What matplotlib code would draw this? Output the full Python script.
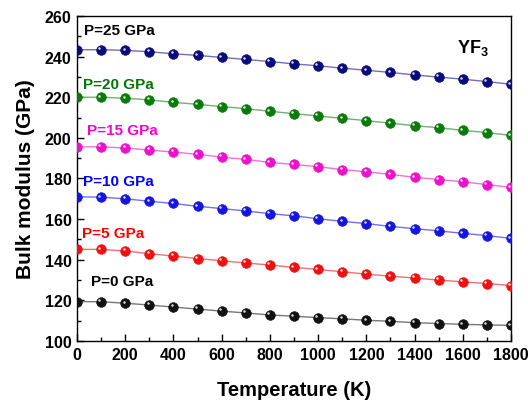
import matplotlib
matplotlib.use("Agg")
import matplotlib.pyplot as plt
import matplotlib.transforms as mtransforms
from matplotlib.ticker import MultipleLocator

plt.rcParams['font.family'] = ['Liberation Sans', 'DejaVu Sans']
plt.rcParams['font.weight'] = 'bold'
plt.rcParams['mathtext.fontset'] = 'custom'
plt.rcParams['mathtext.rm'] = 'Liberation Sans:bold'
plt.rcParams['mathtext.bf'] = 'Liberation Sans:bold'

# temperature grid (K)
temps = list(range(0, 1900, 100))

# bulk modulus (GPa) at each pressure
b_p0 = [119.4, 119.3, 118.6, 117.7, 116.7, 115.7, 114.7, 113.8, 112.8, 112.2,
        111.5, 110.9, 110.2, 109.7, 109.0, 108.6, 108.2, 107.9, 107.7]
b_p5 = [145.1, 145.1, 144.3, 143.0, 141.8, 140.6, 139.5, 138.4, 137.4, 136.2,
        135.2, 134.1, 132.9, 131.9, 131.0, 130.0, 129.1, 128.3, 127.3]
b_p10 = [171.0, 170.8, 170.0, 168.8, 167.7, 166.3, 165.2, 164.0, 162.7, 161.6,
         160.2, 158.9, 157.8, 156.4, 155.3, 154.2, 153.0, 151.9, 150.5]
b_p15 = [195.6, 195.6, 195.0, 194.0, 193.0, 191.9, 190.5, 189.4, 187.9, 186.9,
         185.8, 184.4, 183.3, 182.0, 180.6, 179.5, 178.4, 177.0, 175.6]
b_p20 = [220.0, 220.0, 219.5, 218.7, 217.5, 216.5, 215.4, 214.4, 213.1, 211.9,
         210.8, 209.6, 208.5, 207.2, 206.0, 205.0, 203.7, 202.6, 201.2]
b_p25 = [243.4, 243.4, 243.1, 242.4, 241.4, 240.6, 239.6, 238.6, 237.6, 236.4,
         235.5, 234.3, 233.3, 232.2, 231.0, 229.9, 228.9, 227.7, 226.4]

labels = ['P=0 GPa', 'P=5 GPa', 'P=10 GPa', 'P=15 GPa', 'P=20 GPa', 'P=25 GPa']
series = [b_p0, b_p5, b_p10, b_p15, b_p20, b_p25]
colors = ['#111111', '#ee1111', '#1515dd', '#ee11cc', '#0a7a0a', '#0a0a7a']
line_colors = ['#777777', '#f07070', '#7070ee', '#f070e0', '#70b070', '#7070b8']
text_colors = ['#000000', '#ff0000', '#0000ff', '#ff00cc', '#007700', '#000000']
# where each pressure label sits (T, B)
label_x = [57, 22, 26, 43, 26, 30]
label_y = [129.7, 153.0, 178.9, 203.8, 226.5, 253.1]

fig = plt.figure(figsize=(5.28, 4.02), dpi=100)
ax = fig.add_axes([0.1458, 0.1493, 0.8220, 0.8084])

# small offset for the shiny spot on each ball
shine = mtransforms.offset_copy(ax.transData, fig=fig, x=-1.2, y=1.2, units='points')

for vals, c, lc in zip(series, colors, line_colors):
    ax.plot(temps, vals, '-', color=lc, lw=1.0, zorder=2)
    ax.plot(temps, vals, 'o', color=c, ms=7.0, mec=c, mew=0.4, zorder=3)
    ax.plot(temps, vals, 'o', color='white', ms=1.8, mew=0, alpha=0.85,
            transform=shine, zorder=4)

for lab, tc, lx, ly in zip(labels, text_colors, label_x, label_y):
    ax.text(lx, ly, lab, color=tc, fontsize=11, fontweight='bold',
            ha='left', va='center')

ax.text(0.912, 0.905, r'YF$_\mathbf{3}$', transform=ax.transAxes, fontsize=13,
        fontweight='bold', ha='center', va='center')

ax.set_xlim(0, 1800)
ax.set_ylim(100, 260)
ax.xaxis.set_major_locator(MultipleLocator(200))
ax.xaxis.set_minor_locator(MultipleLocator(100))
ax.yaxis.set_major_locator(MultipleLocator(20))
ax.yaxis.set_minor_locator(MultipleLocator(10))
ax.tick_params(which='both', direction='in', top=False, right=False,
               labelsize=11.5, width=1.0)
ax.tick_params(which='major', length=5, pad=4)
ax.tick_params(which='minor', length=3)
for lbl in ax.get_xticklabels() + ax.get_yticklabels():
    lbl.set_fontweight('bold')
for sp in ax.spines.values():
    sp.set_linewidth(1.0)

ax.set_xlabel('Temperature (K)', fontsize=14.5, fontweight='bold', labelpad=13)
ax.set_ylabel('Bulk modulus (GPa)', fontsize=15, fontweight='bold', labelpad=7)

fig.savefig('out.png', dpi=100)
